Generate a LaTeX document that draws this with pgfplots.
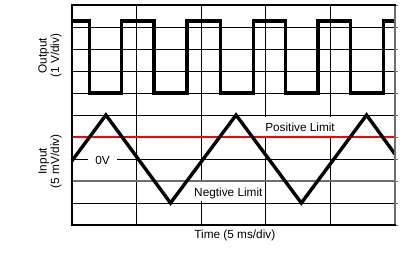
\documentclass[border=0pt]{standalone}
\usepackage{pgfplots}
\pgfplotsset{compat=1.18}
\usepackage{fontspec}
\setmainfont{Liberation Sans}
\definecolor{limgray}{RGB}{110,110,110}
\begin{document}
\begin{tikzpicture}
\useasboundingbox (-72pt,-41pt) rectangle (334pt,225pt);
\begin{axis}[
  at={(0pt,0pt)}, anchor=south west,
  scale only axis, width=323pt, height=220pt,
  xmin=0, xmax=5, ymin=0, ymax=10,
  xtick={0,1,2,3,4,5}, ytick={0,1,...,10},
  xticklabels={}, yticklabels={},
  xmajorticks=false,
  ytick pos=right, tick align=outside, major tick length=3pt,
  ytick style={limgray, line width=0.9pt},
  grid=major, major grid style={black, line width=1pt},
  axis line style={draw=none},
  clip=false,
  font=\fontsize{11.8}{12.5}\selectfont,
]
% labels with white background
\node[fill=white, inner xsep=7pt, inner ysep=2pt, anchor=base] at (axis cs:0.472,2.77) {0V};
\node[fill=white, inner xsep=3pt, inner ysep=1pt, text height=13pt, text depth=4pt, anchor=base] at (axis cs:3.53,4.27) {Positive Limit};
\node[fill=white, inner xsep=3pt, inner ysep=1pt, text height=14pt, text depth=3pt, anchor=base] at (axis cs:2.42,1.273) {Negtive Limit};
% limits
\addplot[red, line width=2pt, no marks] coordinates {(0,4) (5,4)};
\addplot[limgray, line width=2.5pt, no marks] coordinates {(0,2) (5,2)};
% input triangle
\addplot[black, line width=3.4pt, no marks, line join=miter] coordinates {
  (0,2.92) (0.525,5) (1.525,1) (2.54,5) (3.55,1) (4.56,5) (5,3.22)};
% output square wave
\addplot[black, line width=3.3pt, no marks, line join=miter] coordinates {
  (0,9.27) (0.27,9.27) (0.27,6) (0.77,6) (0.77,9.27) (1.27,9.27) (1.27,6)
  (1.78,6) (1.78,9.27) (2.30,9.27) (2.30,6) (2.81,6) (2.81,9.27) (3.31,9.27)
  (3.31,6) (3.81,6) (3.81,9.27) (4.31,9.27) (4.31,6) (4.82,6) (4.82,9.27) (5,9.27)};
% frame
\draw[limgray, line width=1.3pt] (rel axis cs:1,0) -- (rel axis cs:1,1);
\draw[black, line width=2.3pt, line cap=rect] (rel axis cs:1,1) -- (rel axis cs:0,1) -- (rel axis cs:0,0) -- (rel axis cs:1,0);
% axis titles
\node[rotate=90, align=center] at ([xshift=-22pt]axis cs:0,7.7) {Output\\(1 V/div)};
\node[rotate=90, align=center] at ([xshift=-22pt]axis cs:0,2.9) {Input\\(5 mV/div)};
\node[anchor=base] at ([yshift=-13pt]axis cs:2.52,0) {Time (5 ms/div)};
\end{axis}
\end{tikzpicture}
\end{document}
